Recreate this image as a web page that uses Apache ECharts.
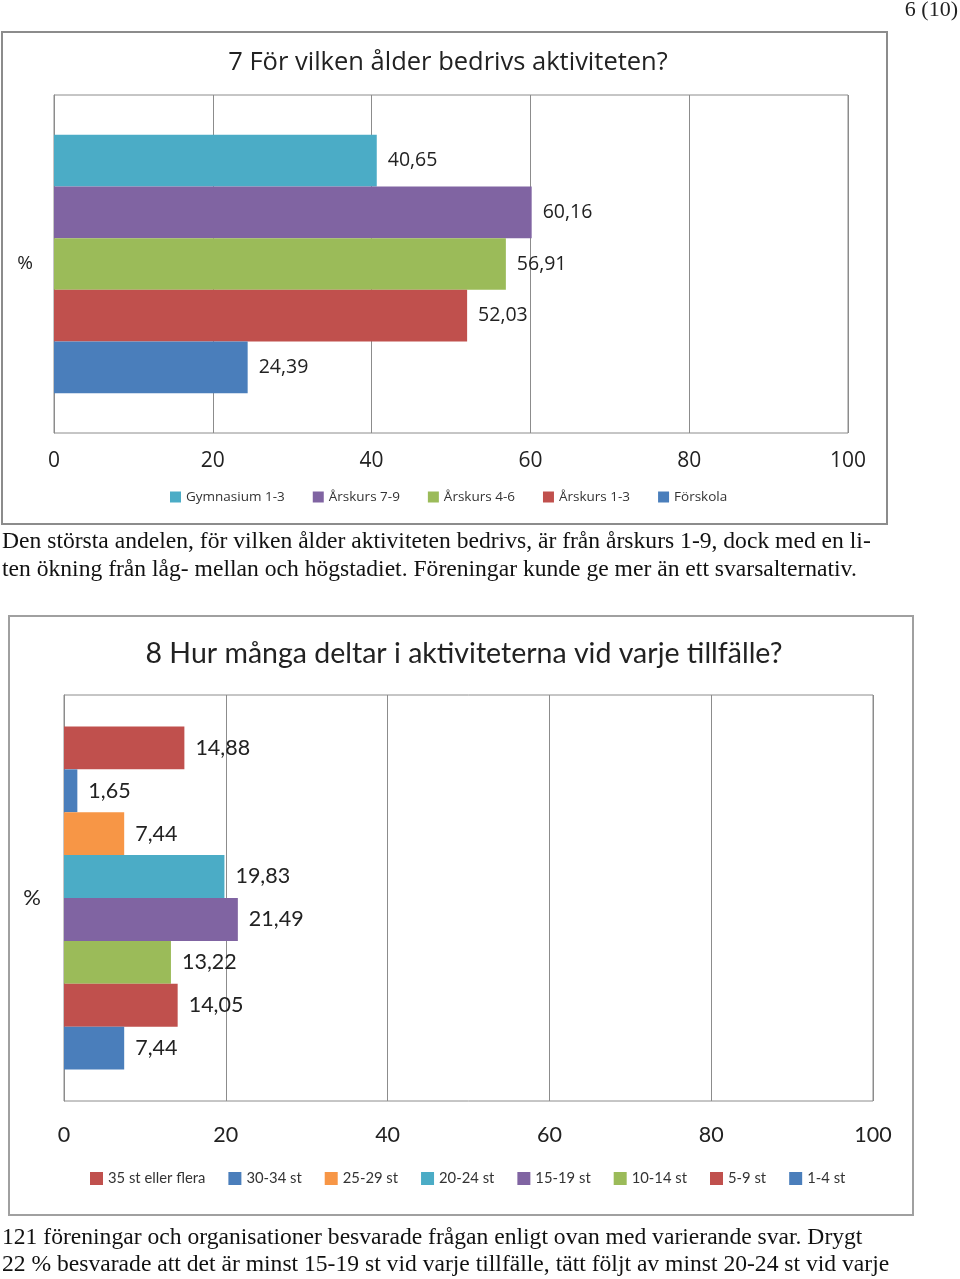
<!DOCTYPE html>
<html>
<head>
<meta charset="utf-8">
<script src="https://cdn.jsdelivr.net/npm/echarts@6/dist/echarts.min.js"></script>
<style>
html,body{margin:0;padding:0;background:#fff;}
#main{width:960px;height:1279px;}
</style>
</head>
<body>
<div id="main"></div>
<script>
// ---- Data ----
const ageTitle = '7 För vilken ålder bedrivs aktiviteten?';
const ageSeries = ['Gymnasium 1-3', 'Årskurs 7-9', 'Årskurs 4-6', 'Årskurs 1-3', 'Förskola'];
const ageValues = [40.65, 60.16, 56.91, 52.03, 24.39];

const sizeTitle = '8 Hur många deltar i aktiviteterna vid varje tillfälle?';
const sizeSeries = ['35 st eller flera', '30-34 st', '25-29 st', '20-24 st', '15-19 st', '10-14 st', '5-9 st', '1-4 st'];
const sizeValues = [14.88, 1.65, 7.44, 19.83, 21.49, 13.22, 14.05, 7.44];

const xTicks = [0, 20, 40, 60, 80, 100];
const categoryLabel = [''];

const pageNumber = '6 (10)';
const para1 = [
  'Den största andelen, för vilken ålder aktiviteten bedrivs, är från årskurs 1-9, dock med en li-',
  'ten ökning från låg- mellan och högstadiet. Föreningar kunde ge mer än ett svarsalternativ.'
];
const para2 = [
  '121 föreningar och organisationer besvarade frågan enligt ovan med varierande svar. Drygt',
  '22 % besvarade att det är minst 15-19 st vid varje tillfälle, tätt följt av minst 20-24 st vid varje'
];

// ---- Styles ----
const ageColors = ['#4BACC6', '#8064A2', '#9BBB59', '#C0504D', '#4A7EBB'];
const sizeColors = ['#C0504D', '#4A7EBB', '#F79646', '#4BACC6', '#8064A2', '#9BBB59', '#C0504D', '#4A7EBB'];
const f1 = '"Open Sans", "Noto Sans", sans-serif';
const f2 = 'Lato, "Noto Sans", sans-serif';
const serif = '"Liberation Serif", "DejaVu Serif", serif';
const gridGray = '#8c8c8c';
const paraFont = '23.6px ' + serif;

const fmt = v => v.toFixed(2).replace('.', ',');

const chart = echarts.init(document.getElementById('main'), null, {renderer: 'canvas'});

const series = [];
ageSeries.forEach((name, i) => {
  series.push({
    name, type: 'bar', xAxisIndex: 0, yAxisIndex: 0,
    data: [ageValues[i]],
    itemStyle: {color: ageColors[i]},
    barGap: '0%', barCategoryGap: '23.5%',
    label: {show: true, position: 'right', distance: 11, color: '#222', fontSize: 19.5, fontFamily: f1,
      formatter: p => fmt(p.value)}
  });
});
sizeSeries.forEach((name, i) => {
  series.push({
    name, type: 'bar', xAxisIndex: 1, yAxisIndex: 1,
    data: [sizeValues[i]],
    itemStyle: {color: sizeColors[i]},
    barGap: '0%', barCategoryGap: '15.5%',
    label: {show: true, position: 'right', distance: 11, color: '#222', fontSize: 21.5, fontFamily: f2,
      formatter: p => fmt(p.value)}
  });
});

const makeX = (idx, fs, margin, ff) => ({
  type: 'value', gridIndex: idx, min: xTicks[0], max: xTicks[xTicks.length - 1],
  interval: xTicks[1] - xTicks[0],
  axisLine: {show: false}, axisTick: {show: false},
  splitLine: {show: true, lineStyle: {color: gridGray, width: 1}},
  axisLabel: {fontSize: fs, color: '#222', margin, fontFamily: ff}
});
const makeY = (idx, fs, gap, ff) => ({
  type: 'category', gridIndex: idx, data: categoryLabel,
  axisLine: {show: true, lineStyle: {color: gridGray}}, axisTick: {show: false},
  axisLabel: {show: false},
  name: '%', nameLocation: 'middle', nameRotate: 0, nameGap: gap,
  nameTextStyle: {fontSize: fs, color: '#222', fontFamily: ff}
});

const graphic = [
  {type: 'rect', shape: {x: 2, y: 32, width: 885, height: 492}, style: {fill: 'none', stroke: '#8c8c8c', lineWidth: 2}, z: 0},
  {type: 'rect', shape: {x: 9, y: 616, width: 904, height: 599}, style: {fill: 'none', stroke: '#a0a0a0', lineWidth: 2}, z: 0},
  {type: 'text', right: 2, top: -1, style: {text: pageNumber, font: '22px ' + serif, fill: '#222'}},
  {type: 'text', left: 2, top: 530, style: {text: para1[0], font: paraFont, fill: '#111'}},
  {type: 'text', left: 2, top: 558, style: {text: para1[1], font: paraFont, fill: '#111'}},
  {type: 'text', left: 2, top: 1226, style: {text: para2[0], font: paraFont, fill: '#111'}},
  {type: 'text', left: 2, top: 1253, style: {text: para2[1], font: paraFont, fill: '#111'}}
];

chart.setOption({
  animation: false,
  backgroundColor: '#fff',
  title: [
    {text: ageTitle, left: 443, textAlign: 'center', top: 45, textStyle: {fontSize: 25.5, fontWeight: 'normal', color: '#222', fontFamily: f1}},
    {text: sizeTitle, left: 459, textAlign: 'center', top: 634, textStyle: {fontSize: 28.5, fontWeight: 'normal', color: '#222', fontFamily: f2}}
  ],
  legend: [
    {data: ageSeries, left: 165, top: 485, itemWidth: 11, itemHeight: 11, itemGap: 28, icon: 'rect',
      textStyle: {fontSize: 13.5, color: '#333', fontFamily: f1}},
    {data: sizeSeries, left: 85, top: 1166, itemWidth: 13, itemHeight: 13, itemGap: 23, icon: 'rect',
      textStyle: {fontSize: 14.8, color: '#333', fontFamily: f2}}
  ],
  grid: [
    {left: 54, top: 95, width: 794, height: 338, show: true, borderColor: gridGray, borderWidth: 1, containLabel: false},
    {left: 64, top: 695, width: 809, height: 406, show: true, borderColor: gridGray, borderWidth: 1, containLabel: false}
  ],
  xAxis: [makeX(0, 21, 18, f1), makeX(1, 21.5, 23, f2)],
  yAxis: [makeY(0, 19, 21, f1), makeY(1, 22, 23, f2)],
  series,
  graphic
});
</script>
</body>
</html>
